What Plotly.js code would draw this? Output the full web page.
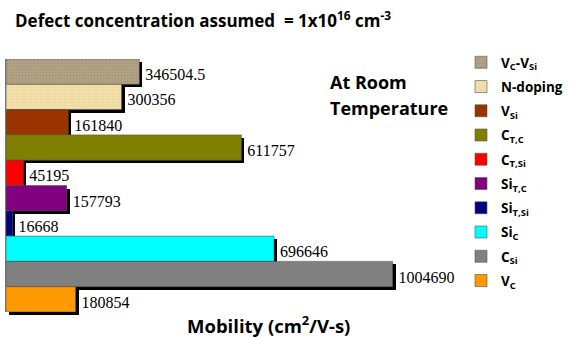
<!DOCTYPE html>
<html>
<head>
<meta charset="utf-8">
<script src="https://cdn.plot.ly/plotly-3.0.1.min.js"></script>
<style>html,body{margin:0;padding:0;background:#fff;}#chart{width:574px;height:337px;}</style>
</head>
<body>
<div id="chart"></div>
<script>
// Data (top to bottom as drawn)
const categories = ["V<sub>C</sub>-V<sub>Si</sub>", "N-doping", "V<sub>Si</sub>", "C<sub>T,C</sub>", "C<sub>T,Si</sub>",
  "Si<sub>T,C</sub>", "Si<sub>T,Si</sub>", "Si<sub>C</sub>", "C<sub>Si</sub>", "V<sub>C</sub>"];
const mobility = [346504.5, 300356, 161840, 611757, 45195, 157793, 16668, 696646, 1004690, 180854];
const valueLabels = ["346504.5", "300356", "161840", "611757", "45195", "157793", "16668", "696646", "1004690", "180854"];
const colors = ["#b3a386", "#f3e0ab", "#993300", "#808000", "#ff0000", "#800080", "#000080", "#00ffff", "#808080", "#ff9900"];
const patternColors = ["#a19274", "#e6d197", null, null, null, null, null, null, null, null];

const W = 574, H = 337;
const L = 6, R = 108, T = 59, B = 22;
const pw = W - L - R, ph = H - T - B;
const sh = 3; // shadow offset px
const xMax = 1180000;

const traces = [];
// shadow trace (drawn first, on subplot x/y) carrying the value labels
traces.push({
  type: 'bar', orientation: 'h',
  y: categories, x: mobility,
  xaxis: 'x', yaxis: 'y',
  marker: {color: '#000000', line: {width: 0}},
  text: valueLabels, textposition: 'outside', cliponaxis: false,
  constraintext: 'none',
  textfont: {family: 'Liberation Serif', size: 16, color: '#000'},
  showlegend: false, hoverinfo: 'skip'
});
categories.forEach((c, i) => {
  const marker = {color: colors[i], line: {width: 0.6, color: '#555'}};
  if (patternColors[i]) {
    marker.pattern = {shape: '.', fgcolor: patternColors[i], bgcolor: colors[i], size: 3, solidity: 0.25};
  }
  traces.push({
    type: 'bar', orientation: 'h',
    y: [c], x: [mobility[i]], name: c,
    legendgroup: 'g' + i,
    marker: marker,
    xaxis: 'x2', yaxis: 'y2'
  });
});

const axX = {range: [0, xMax], showgrid: false, zeroline: false, showticklabels: false, showline: false, ticks: ''};
const axY = {type: 'category', categoryarray: categories, categoryorder: 'array', autorange: 'reversed',
  showgrid: false, zeroline: false, showticklabels: false, ticks: ''};

const hfont = {family: 'Open Sans', color: '#000'};
const layout = {
  width: W, height: H,
  margin: {l: L, r: R, t: T, b: B, pad: 0},
  paper_bgcolor: '#fff', plot_bgcolor: 'rgba(0,0,0,0)',
  barmode: 'overlay', bargap: 0,
  xaxis: Object.assign({}, axX, {domain: [sh / pw, 1], anchor: 'y'}),
  yaxis: Object.assign({}, axY, {domain: [0, 1 - sh / ph], anchor: 'x', showline: false}),
  xaxis2: Object.assign({}, axX, {domain: [0, 1 - sh / pw], anchor: 'y2'}),
  yaxis2: Object.assign({}, axY, {domain: [sh / ph, 1], anchor: 'x2', showline: true, linecolor: '#777', linewidth: 1}),
  showlegend: true,
  legend: {
    x: (464 - L) / pw, xanchor: 'left', y: 1 + (T - 47) / ph, yanchor: 'top',
    traceorder: 'grouped', tracegroupgap: 3.7, maxheight: 330,
    font: {family: 'Open Sans', size: 13.5, color: '#000', weight: 'bold'},
    bgcolor: 'rgba(0,0,0,0)'
  },
  annotations: [
    {text: '<b>Defect concentration assumed  = 1x10<sup>16</sup> cm<sup>-3</sup></b>', xref: 'paper', yref: 'paper',
     x: (13 - L) / pw, xanchor: 'left', y: (T + ph - 19) / ph, yanchor: 'middle', showarrow: false,
     font: Object.assign({size: 17}, hfont)},
    {text: '<b>At Room</b>', xref: 'paper', yref: 'paper', x: (330 - L) / pw, xanchor: 'left',
     y: (T + ph - 82) / ph, yanchor: 'middle', showarrow: false, font: Object.assign({size: 18}, hfont)},
    {text: '<b>Temperature</b>', xref: 'paper', yref: 'paper', x: (330 - L) / pw, xanchor: 'left',
     y: (T + ph - 108) / ph, yanchor: 'middle', showarrow: false, font: Object.assign({size: 18}, hfont)},
    {text: '<b>Mobility (cm<sup>2</sup>/V-s)</b>', xref: 'paper', yref: 'paper', x: (270 - L) / pw, xanchor: 'center',
     y: (T + ph - 324) / ph, yanchor: 'middle', showarrow: false, font: Object.assign({size: 18.5}, hfont)}
  ]
};

Plotly.newPlot('chart', traces, layout, {displayModeBar: false, staticPlot: true});
</script>
</body>
</html>
